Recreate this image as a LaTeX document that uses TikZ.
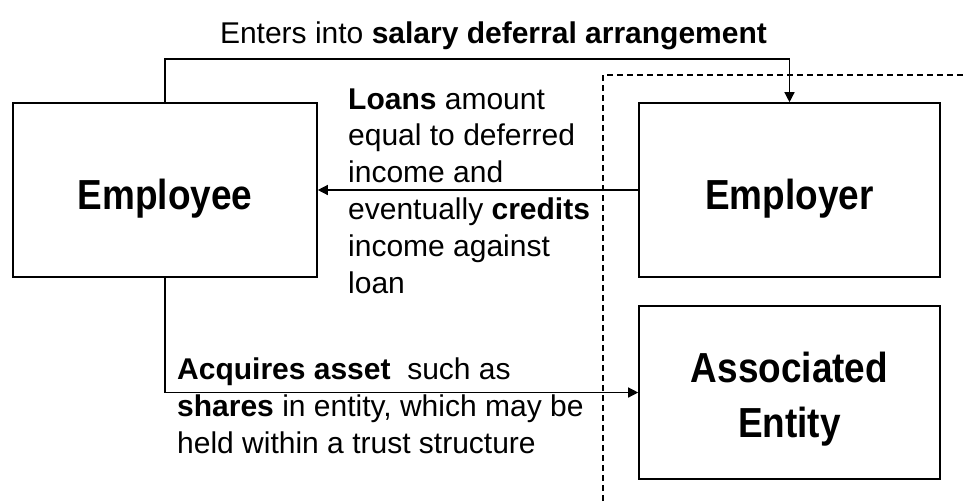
\documentclass[tikz,border=0pt]{standalone}
\usepackage{fontspec}
\setmainfont{Liberation Sans}
\usepackage{graphicx}
\usetikzlibrary{arrows.meta}
\tikzset{
  box/.style={draw, line width=1.6pt, minimum height=174pt, inner sep=0pt},
  lbl/.style={font=\fontsize{42}{55}\selectfont\bfseries, anchor=base, inner sep=0pt},
  txt/.style={font=\fontsize{30}{37}\selectfont, anchor=base west, inner sep=0pt},
  conn/.style={line width=1.3pt, -{Triangle[length=10pt,width=10pt]}},
  boundary/.style={line width=1.3pt, dash pattern=on 6pt off 4pt},
}
\begin{document}
\begin{tikzpicture}[x=1pt,y=-1pt]
\useasboundingbox (0,0) rectangle (964,501);

% boxes
\node[box, minimum width=304pt] (employee) at (165,190) {};
\node[box, minimum width=301pt] (employer) at (789.5,190) {};
\node[box, minimum width=301pt, minimum height=173pt] (assoc) at (789.5,392.5) {};

% box labels
\node[lbl] (employeelbl) at (165,209) {\scalebox{0.88}[1]{Employee}};
\node[lbl] (employerlbl) at (789.5,209) {\scalebox{0.88}[1]{Employer}};
\node[lbl] (assoclbla) at (789.5,382) {\scalebox{0.88}[1]{Associated}};
\node[lbl] (assoclblb) at (789.5,437) {\scalebox{0.88}[1]{Entity}};

% dashed boundary
\draw[boundary] (603,501) -- (603,75) -- (964,75);

% connectors
\coordinate (topy) at (0,59);
\draw[conn] (employee.north) -- (employee.north |- topy) -| (employer.north);
\draw[conn] (employer.west) -- (employee.east);
\draw[conn] (employee.south) |- (assoc.west);

% top text
\node[font=\fontsize{30}{37}\selectfont, anchor=base, inner sep=0pt] (toptext) at (493.5,43)
  {Enters into \textbf{salary deferral arrangement}};

% loans text
\node[txt] (la) at (348,109) {\textbf{Loans} amount};
\node[txt] (lb) at (348,145.8) {equal to deferred};
\node[txt] (lc) at (348,182.6) {income and};
\node[txt] (ld) at (348,219.4) {eventually \textbf{credits}};
\node[txt] (le) at (348,256.2) {income against};
\node[txt] (lf) at (348,293) {loan};

% acquires text
\node[txt] (aa) at (177,379) {\textbf{Acquires asset}~ such as};
\node[txt] (ab) at (177,416) {\textbf{shares} in entity, which may be};
\node[txt] (ac) at (177,453) {held within a trust structure};
\end{tikzpicture}
\end{document}
